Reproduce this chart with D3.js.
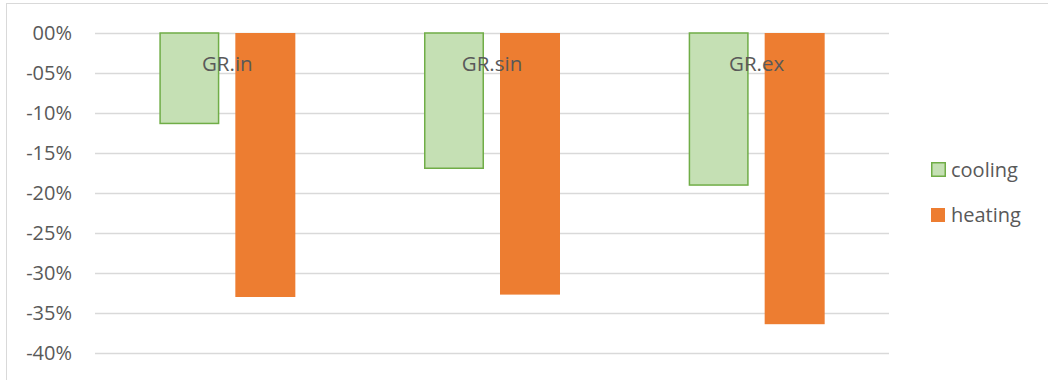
<!DOCTYPE html>
<html><head><meta charset="utf-8">
<script src="https://cdn.jsdelivr.net/npm/d3@7/dist/d3.min.js"></script>
<style>
html,body{margin:0;padding:0;background:#fff;}
svg{display:block;font-family:"Open Sans",sans-serif;}
</style></head>
<body><svg id="chart" width="1048" height="380"></svg>
<script>
const categories = ["GR.in", "GR.sin", "GR.ex"];
const seriesNames = ["cooling", "heating"];
const cooling = [-0.114, -0.170, -0.191];
const heating = [-0.330, -0.327, -0.364];
const tickValues = [0, -0.05, -0.10, -0.15, -0.20, -0.25, -0.30, -0.35, -0.40];

const svg = d3.select("#chart");
const W = 1048, H = 380;
const plot = {left: 95, right: 889, top: 33, bottom: 353};

// chart frame
svg.append("rect").attr("x", 6.5).attr("y", 3.5).attr("width", 1100).attr("height", 500)
  .attr("fill", "none").attr("stroke", "#d9d9d9").attr("stroke-width", 1);

const y = d3.scaleLinear().domain([0, -0.40]).range([plot.top, plot.bottom]);
const x0 = d3.scaleBand().domain(categories).range([plot.left, plot.right]).paddingInner(0).paddingOuter(0);
const barW = 60, gap = 16;
const groupW = barW * 2 + gap;

const fmt = v => {
  const p = Math.round(Math.abs(v) * 100);
  return (v < 0 ? "-" : "") + String(p).padStart(2, "0") + "%";
};

// gridlines
const yAxis = d3.axisLeft(y).tickValues(tickValues).tickSize(-(plot.right - plot.left)).tickFormat(fmt).tickPadding(23);
const g = svg.append("g").attr("transform", `translate(${plot.left},0)`).call(yAxis);
g.select(".domain").remove();
g.selectAll(".tick line").attr("stroke", "#d9d9d9").attr("stroke-width", 1.5);
g.selectAll(".tick text").attr("fill", "#595959").attr("font-size", 20).attr("font-family", "Open Sans");

// bars
const data = categories.map((c, i) => ({c, cooling: cooling[i], heating: heating[i]}));
const bars = svg.append("g");
data.forEach(d => {
  const gx = x0(d.c) + x0.bandwidth() / 2 - groupW / 2;
  bars.append("rect")
    .attr("x", gx + 0.75).attr("y", y(0))
    .attr("width", barW - 1.5).attr("height", y(d.cooling) - y(0) - 0.75)
    .attr("fill", "#c5e0b4").attr("stroke", "#70ad47").attr("stroke-width", 1.5);
  bars.append("rect")
    .attr("x", gx + barW + gap).attr("y", y(0))
    .attr("width", barW).attr("height", y(d.heating) - y(0))
    .attr("fill", "#ed7d31");
});

// category labels
svg.append("g").selectAll("text").data(categories).join("text")
  .attr("x", d => x0(d) + x0.bandwidth() / 2)
  .attr("y", 71)
  .attr("text-anchor", "middle")
  .attr("fill", "#595959").attr("font-size", 20.5)
  .text(d => d);

// legend
const legend = svg.append("g");
const legY = [169.5, 215];
seriesNames.forEach((s, i) => {
  if (i === 0) {
    legend.append("rect").attr("x", 931.75).attr("y", legY[i] - 6.75).attr("width", 13.5).attr("height", 13.5)
      .attr("fill", "#c5e0b4").attr("stroke", "#70ad47").attr("stroke-width", 1.5);
  } else {
    legend.append("rect").attr("x", 931).attr("y", legY[i] - 7).attr("width", 14).attr("height", 14)
      .attr("fill", "#ed7d31");
  }
  legend.append("text").attr("x", 951).attr("y", legY[i]).attr("dy", "0.35em")
    .attr("fill", "#595959").attr("font-size", 20).text(s);
});
</script></body></html>
